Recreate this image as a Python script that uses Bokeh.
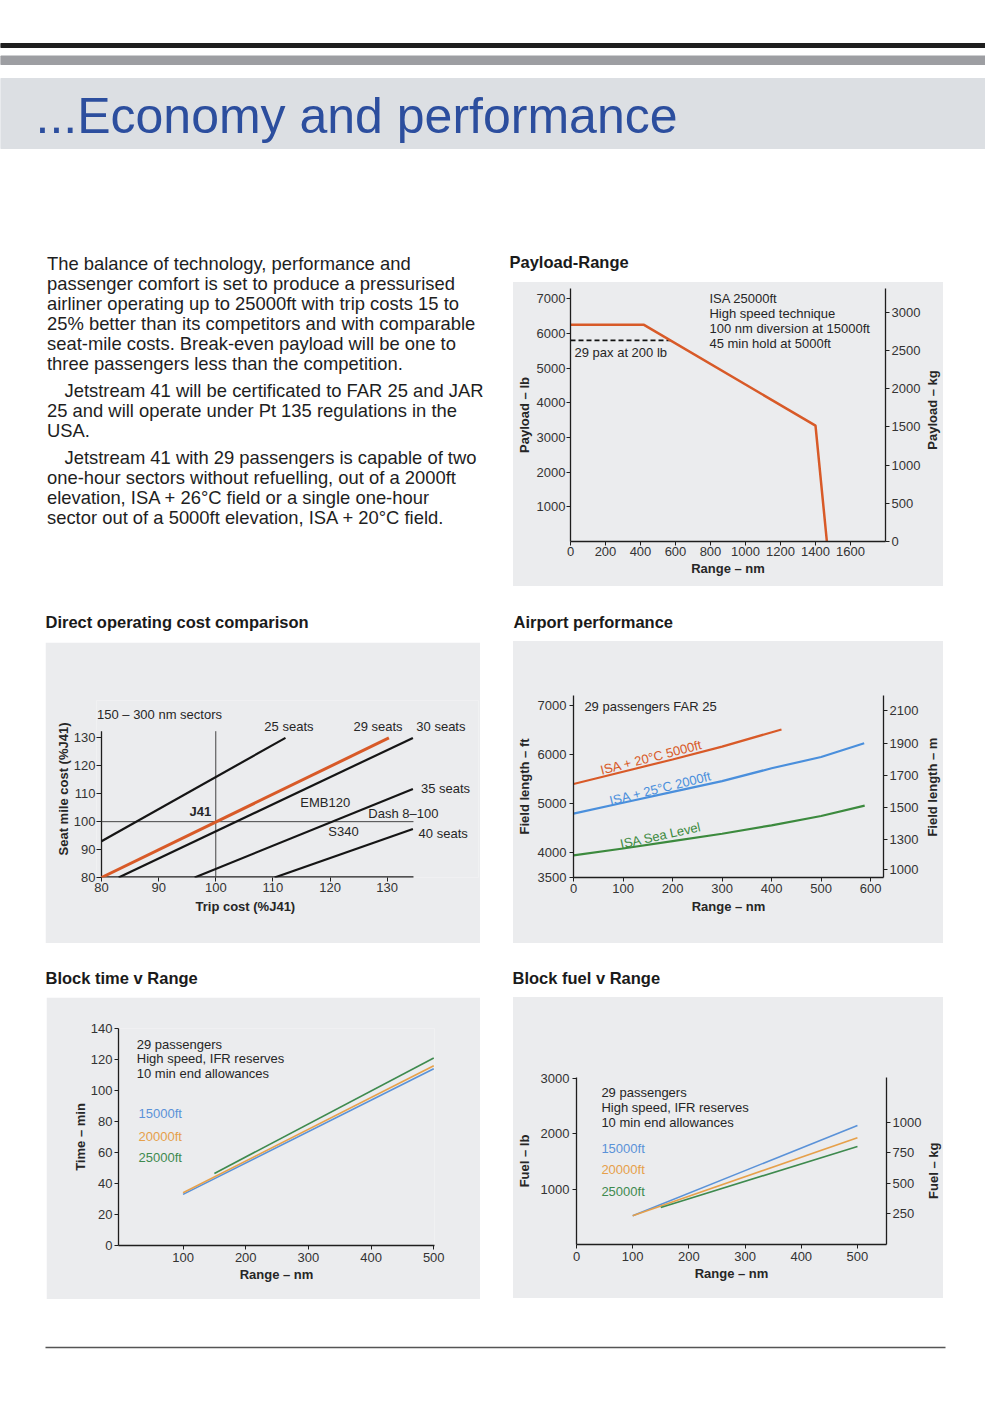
import math
from bokeh.plotting import figure
from bokeh.models import Range1d, LinearAxis, FixedTicker, Spacer, Label, Title
from bokeh.layouts import column, row
from bokeh.embed import file_html
from bokeh.resources import INLINE

FONT = "Liberation Sans"
PANEL = "#ebecee"
INK = "#262626"
LB_PER_KG = 2.20462
FT_PER_M = 3.28084

# ---------------- data ----------------
# Payload-Range
payload_range_nm = [0, 420, 1400, 1465]
payload_lb = [6250, 6250, 3340, 0]
pax_limit_range_nm = [0, 571]
pax_limit_lb = [5800, 5800]
payload_x_ticks = [0, 200, 400, 600, 800, 1000, 1200, 1400, 1600]
payload_lb_ticks = [1000, 2000, 3000, 4000, 5000, 6000, 7000]
payload_kg_ticks = [0, 500, 1000, 1500, 2000, 2500, 3000]
payload_notes = ["ISA 25000ft", "High speed technique",
                 "100 nm diversion at 15000ft", "45 min hold at 5000ft"]

# Direct operating cost comparison (trip cost %J41 vs seat mile cost %J41)
doc_trip_25 = [80, 112.2]
doc_seat_25 = [93, 130]
doc_trip_29 = [80, 130.3]
doc_seat_29 = [80, 130]
doc_trip_30 = [83, 134.5]
doc_seat_30 = [80, 130]
doc_trip_35 = [96.3, 134.5]
doc_seat_35 = [80, 111.7]
doc_trip_40 = [110.3, 134.5]
doc_seat_40 = [80, 97.4]
doc_ref_trip = [100, 100]
doc_ref_seat = [80, 132.4]
doc_ref_h_trip = [80, 134.6]
doc_ref_h_seat = [100, 100]
doc_axis_x_trip = [80, 134.6]
doc_axis_x_seat = [80, 80]
doc_axis_y_trip = [80, 80]
doc_axis_y_seat = [80, 132.4]
doc_ticks = [80, 90, 100, 110, 120, 130]

# Airport performance
ap_range_hot5000 = [0, 100, 200, 300, 420]
ap_fl_hot5000 = [5400, 5650, 5900, 6160, 6510]
ap_range_hot2000 = [0, 100, 200, 300, 400, 500, 587]
ap_fl_hot2000 = [4800, 5020, 5240, 5460, 5720, 5950, 6230]
ap_range_sl = [0, 100, 200, 300, 400, 500, 588]
ap_fl_sl = [3950, 4090, 4240, 4390, 4560, 4750, 4960]
ap_x_ticks = [0, 100, 200, 300, 400, 500, 600]
ap_ft_ticks = [3500, 4000, 5000, 6000, 7000]
ap_m_ticks = [1119, 1300, 1500, 1700, 1900, 2100]
ap_m_labels = {1119: "1000"}

# Block time v Range
bt_range_15 = [100, 500]
bt_min_15 = [33, 114]
bt_range_20 = [100, 500]
bt_min_20 = [34, 116]
bt_range_25 = [150, 500]
bt_min_25 = [46.5, 121]
bt_x_ticks = [100, 200, 300, 400, 500]
bt_y_ticks = [0, 20, 40, 60, 80, 100, 120, 140]

# Block fuel v Range
bf_range_15 = [100, 500]
bf_lb_15 = [520, 2150]
bf_range_20 = [100, 500]
bf_lb_20 = [520, 1930]
bf_range_25 = [150, 500]
bf_lb_25 = [670, 1770]
bf_x_ticks = [0, 100, 200, 300, 400, 500]
bf_lb_ticks = [1000, 2000, 3000]
bf_kg_ticks = [250, 500, 750, 1000]

notes_common = ["29 passengers", "High speed, IFR reserves", "10 min end allowances"]
alt_names = ["15000ft", "20000ft", "25000ft"]

paragraph_lines = [
    "The balance of technology, performance and",
    "passenger comfort is set to produce a pressurised",
    "airliner operating up to 25000ft with trip costs 15 to",
    "25% better than its competitors and with comparable",
    "seat-mile costs. Break-even payload will be one to",
    "three passengers less than the competition.",
    "Jetstream 41 will be certificated to FAR 25 and JAR",
    "25 and will operate under Pt 135 regulations in the",
    "USA.",
    "Jetstream 41 with 29 passengers is capable of two",
    "one-hour sectors without refuelling, out of a 2000ft",
    "elevation, ISA + 26\u00b0C field or a single one-hour",
    "sector out of a 5000ft elevation, ISA + 20\u00b0C field.",
]
paragraph_y = [18.3, 38.3, 58.3, 78.3, 98.3, 118.3, 145, 165, 185, 211.7, 231.7, 251.7, 271.7]
paragraph_indent = [False] * 6 + [True, False, False, True, False, False, False]

# colours
ORANGE = "#d85a28"
BLUE = "#4a8fdc"
GREEN = "#3c8a3e"
BT_BLUE = "#5a92d8"
BT_ORANGE = "#e6a04a"
BT_GREEN = "#3e8a4e"


# ---------------- helpers ----------------
def blank(width, height, fill="white"):
    p = figure(width=width, height=height, x_range=Range1d(0, width),
               y_range=Range1d(height, 0), output_backend="svg",
               toolbar_location=None, x_axis_type=None, y_axis_type=None,
               min_border=0, outline_line_color=None,
               background_fill_color=fill, border_fill_color=fill)
    return p


def note(p, x, y, text, size="13px", color=INK, style="normal",
         align="left", baseline="middle", angle=0.0):
    p.add_layout(Label(x=x, y=y, text=text, text_font=FONT, text_font_size=size,
                       text_color=color, text_font_style=style, text_align=align,
                       text_baseline=baseline, angle=angle))


def title_fig(text, width, height, x, y):
    p = blank(width, height)
    note(p, x, y, text, size="16.5px", color="#1a1a1a", style="bold")
    return p


def side_label(text, width, height, x, y):
    # vertical axis title of a right-hand axis, reading bottom to top
    p = blank(width, height, PANEL)
    note(p, x, y, text, style="bold", align="center", angle=math.pi / 2)
    return p


def style_axis(ax, label, ticks, label_standoff=3, tick_standoff=2):
    ax.ticker = FixedTicker(ticks=ticks)
    ax.axis_label = label
    ax.axis_label_text_font = FONT
    ax.axis_label_text_font_size = "13px"
    ax.axis_label_text_font_style = "bold"
    ax.axis_label_text_color = INK
    ax.axis_label_standoff = label_standoff
    ax.major_label_text_font = FONT
    ax.major_label_text_font_size = "13px"
    ax.major_label_text_color = "#333333"
    ax.major_label_standoff = tick_standoff
    ax.major_tick_in = 0
    ax.major_tick_out = 4
    ax.minor_tick_in = 0
    ax.minor_tick_out = 0
    ax.axis_line_color = "#1e1e1e"
    ax.axis_line_width = 1.3
    ax.major_tick_line_color = "#1e1e1e"


def right_axis(p, range_name, ticks):
    ax = LinearAxis(y_range_name=range_name)
    style_axis(ax, None, ticks, 0, 2)
    p.add_layout(ax, "right")
    return ax


def chart(width, height, xr, yr, bl, br, bt, bb):
    p = figure(width=width, height=height, x_range=Range1d(*xr), y_range=Range1d(*yr),
               output_backend="svg", toolbar_location=None,
               min_border_left=bl, min_border_right=br,
               min_border_top=bt, min_border_bottom=bb,
               background_fill_color=PANEL, border_fill_color=PANEL,
               outline_line_color=None)
    p.xgrid.visible = False
    p.ygrid.visible = False
    return p


def panel_row(*items):
    return row(*items, styles={"background-color": PANEL})


# ---------------- header ----------------
header = blank(985, 245)
header.quad(left=[0], right=[985], top=[43], bottom=[47], color="#1e1e1e")
header.quad(left=[0], right=[985], top=[55.5], bottom=[64], color="#9d9ea2")
header.quad(left=[0], right=[985], top=[78], bottom=[148], color="#dcdfe3")
note(header, 35, 115, "...Economy and performance", size="50px", color="#2c4e9e")

# ---------------- paragraph ----------------
para = blank(505, 355)
for txt, yy, ind in zip(paragraph_lines, paragraph_y, paragraph_indent):
    note(para, 64 if ind else 46.5, yy, txt, size="18.4px", color="#1e1e1e")

# ---------------- Payload-Range ----------------
pr = chart(412, 304, (0, 1800), (0, 7297), 57, 40, 6, 45)
style_axis(pr.xaxis[0], "Range \u2013 nm", payload_x_ticks, 2, 1)
style_axis(pr.yaxis[0], "Payload \u2013 lb", payload_lb_ticks, 2, 1)
pr.extra_y_ranges = {"kg": Range1d(0, 7297 / LB_PER_KG)}
right_axis(pr, "kg", payload_kg_ticks)
pr.line(pax_limit_range_nm, pax_limit_lb, line_color="#111111", line_width=1.8,
        line_dash="5 3")
pr.line(payload_range_nm, payload_lb, line_color=ORANGE, line_width=2.5)
for i, t in enumerate(payload_notes):
    note(pr, 794, 7010 - i * 433, t)
note(pr, 23, 5451, "29 pax at 200 lb")
pr_side = side_label("Payload \u2013 kg", 18, 304, 7, 146)

# ---------------- DOC ----------------
# frame extended up/right/left so that the series labels stay inside it
doc = chart(435, 301, (79.125, 145.98), (80, 143.4), 51, 2, 58, 66)
style_axis(doc.xaxis[0], None, doc_ticks, 4, 1)
style_axis(doc.yaxis[0], "Seat mile cost (%J41)", doc_ticks, 0, 1)
doc.yaxis[0].major_tick_in = 5
doc.yaxis[0].major_tick_out = 0
doc.xaxis[0].axis_line_color = None
doc.yaxis[0].axis_line_color = None
doc.add_layout(Title(text="Trip cost (%J41)", align="left", offset=99, standoff=5,
                     text_font=FONT, text_font_size="13px", text_font_style="bold",
                     text_color=INK), "below")
doc.line(doc_axis_x_trip, doc_axis_x_seat, line_color="#1e1e1e", line_width=2.6)
doc.line(doc_axis_y_trip, doc_axis_y_seat, line_color="#1e1e1e", line_width=1.3)
doc.line(doc_ref_trip, doc_ref_seat, line_color="#444444", line_width=1)
doc.line(doc_ref_h_trip, doc_ref_h_seat, line_color="#444444", line_width=1)
for xs, ys in [(doc_trip_25, doc_seat_25), (doc_trip_30, doc_seat_30),
               (doc_trip_35, doc_seat_35), (doc_trip_40, doc_seat_40)]:
    doc.line(xs, ys, line_color="#151515", line_width=2.2)
doc.line(doc_trip_29, doc_seat_29, line_color=ORANGE, line_width=3)
note(doc, 79.21, 138.4, "150 \u2013 300 nm sectors")
note(doc, 108.5, 134.2, "25 seats")
note(doc, 124.1, 134.2, "29 seats")
note(doc, 135.1, 134.2, "30 seats")
note(doc, 135.9, 111.8, "35 seats")
note(doc, 114.8, 106.8, "EMB120")
note(doc, 95.4, 103.7, "J41", style="bold")
note(doc, 126.7, 102.9, "Dash 8\u2013100")
note(doc, 119.7, 96.4, "S340")
note(doc, 135.5, 95.8, "40 seats")

# ---------------- Airport performance ----------------
ap = chart(409, 302, (0, 626), (3500, 7200), 57, 39, 54, 66)
style_axis(ap.xaxis[0], "Range \u2013 nm", ap_x_ticks, 3, 2)
style_axis(ap.yaxis[0], "Field length \u2013 ft", ap_ft_ticks, 3, 3)
ap.extra_y_ranges = {"m": Range1d(3500 / FT_PER_M, 7200 / FT_PER_M)}
ap_r = right_axis(ap, "m", ap_m_ticks)
ap_r.major_label_overrides = ap_m_labels
ap.line(ap_range_hot5000, ap_fl_hot5000, line_color=ORANGE, line_width=2.2)
ap.line(ap_range_hot2000, ap_fl_hot2000, line_color=BLUE, line_width=2.2)
ap.line(ap_range_sl, ap_fl_sl, line_color=GREEN, line_width=2.2)
note(ap, 22, 6983, "29 passengers FAR 25")
note(ap, 54.7, 5678, "ISA + 20\u00b0C 5000ft", color=ORANGE, baseline="alphabetic", angle=0.251)
note(ap, 73, 5056, "ISA + 25\u00b0C 2000ft", color=BLUE, baseline="alphabetic", angle=0.244)
note(ap, 94.7, 4177, "ISA Sea Level", color=GREEN, baseline="alphabetic", angle=0.215)
ap_side = side_label("Field length \u2013 m", 21, 302, 10, 152)

# ---------------- Block time ----------------
bt = chart(434, 302, (-3, 501.2), (0, 140), 72, 46, 31, 54)
style_axis(bt.xaxis[0], "Range \u2013 nm", bt_x_ticks, 2, 3)
style_axis(bt.yaxis[0], "Time \u2013 min", bt_y_ticks, 0, 2)
bt.line(bt_range_15, bt_min_15, line_color=BT_BLUE, line_width=1.6)
bt.line(bt_range_20, bt_min_20, line_color=BT_ORANGE, line_width=1.6)
bt.line(bt_range_25, bt_min_25, line_color=BT_GREEN, line_width=1.6)
for t, yy in zip(notes_common, [130, 120.4, 110.8]):
    note(bt, 26.2, yy, t)
for t, yy, c in zip(alt_names, [84.9, 70.2, 56.5], [BT_BLUE, BT_ORANGE, BT_GREEN]):
    note(bt, 28.9, yy, t, color=c)

# ---------------- Block fuel ----------------
bf = chart(411, 301, (0, 551.7), (0, 3017), 60, 36, 80, 54)
style_axis(bf.xaxis[0], "Range \u2013 nm", bf_x_ticks, 2, 3)
style_axis(bf.yaxis[0], "Fuel \u2013 lb", bf_lb_ticks, 6, 3)
bf.extra_y_ranges = {"kg": Range1d(0, 3017 / LB_PER_KG)}
right_axis(bf, "kg", bf_kg_ticks)
bf.line(bf_range_15, bf_lb_15, line_color=BT_BLUE, line_width=1.6)
bf.line(bf_range_20, bf_lb_20, line_color=BT_ORANGE, line_width=1.6)
bf.line(bf_range_25, bf_lb_25, line_color=BT_GREEN, line_width=1.6)
for t, yy in zip(notes_common, [2741, 2470, 2206]):
    note(bf, 44.3, yy, t)
for t, yy, c in zip(alt_names, [1736, 1356, 951], [BT_BLUE, BT_ORANGE, BT_GREEN]):
    note(bf, 44.3, yy, t, color=c)
bf_side = side_label("Fuel \u2013 kg", 19, 301, 9, 168)

# ---------------- footer ----------------
footer = blank(980, 95)
footer.line([45, 945], [48, 48], line_color="#555555", line_width=1.5)

# ---------------- layout ----------------
sec1 = row(
    para,
    column(title_fig("Payload-Range", 438, 37, 4, 16),
           row(Spacer(width=8, height=304), panel_row(pr, pr_side)),
           Spacer(width=438, height=14)),
    Spacer(width=37, height=355),
)
sec2 = row(
    column(title_fig("Direct operating cost comparison", 480, 42, 45, 21),
           row(Spacer(width=45, height=301), doc),
           Spacer(width=480, height=17)),
    Spacer(width=25, height=360),
    column(title_fig("Airport performance", 438, 41, 8, 21),
           row(Spacer(width=8, height=302), panel_row(ap, ap_side)),
           Spacer(width=438, height=17)),
    Spacer(width=37, height=360),
)
sec3 = row(
    column(title_fig("Block time v Range", 480, 37, 45, 17),
           row(Spacer(width=46, height=302), bt)),
    Spacer(width=25, height=339),
    column(title_fig("Block fuel v Range", 438, 37, 7, 17),
           row(Spacer(width=8, height=301), panel_row(bf, bf_side)),
           Spacer(width=438, height=1)),
    Spacer(width=37, height=339),
)
page = column(header, sec1, sec2, sec3, footer)

open("out.html", "w").write(file_html(page, INLINE))
